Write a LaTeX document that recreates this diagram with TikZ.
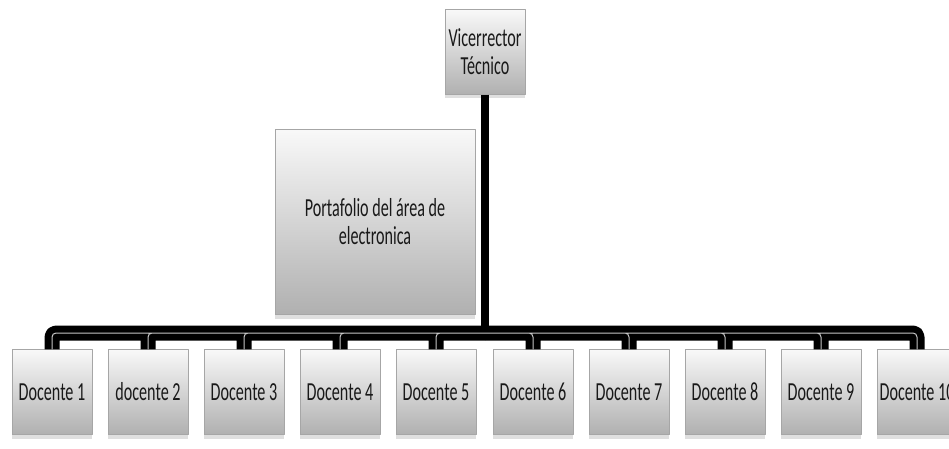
\documentclass[tikz,border=0pt]{standalone}
\usepackage{fontspec}
\newfontfamily\boxfont[FakeStretch=0.62]{Carlito}
\usetikzlibrary{shadows}
\tikzset{
  card/.style={draw=gray!70, top color=gray!5, bottom color=gray!62, minimum width=80pt, minimum height=85pt, inner sep=1pt, align=center, text=black!90, drop shadow={opacity=0.25, shadow xshift=0pt, shadow yshift=-4pt}},
  conn/.style={line width=7pt, draw=black, double=gray!45, double distance=1pt, rounded corners=4pt}
}
\begin{document}
\begin{tikzpicture}[x=1pt,y=1pt, font=\boxfont\fontsize{26}{28}\selectfont, line join=round]
	\useasboundingbox (0,0) rectangle (949,448);
	\path
	(485,396) node[card] (vic) {Vicerrector\\Técnico}
	(375,226) node[card, minimum width=200pt, minimum height=185pt] (port) {Portafolio del área de\\electronica}
	(52,56) node[card] (d1) {Docente 1}
	(148,56) node[card] (d2) {docente 2}
	(244,56) node[card] (d3) {Docente 3}
	(340,56) node[card] (d4) {Docente 4}
	(436,56) node[card] (d5) {Docente 5}
	(533,56) node[card] (d6) {Docente 6}
	(629,56) node[card] (d7) {Docente 7}
	(725,56) node[card] (d8) {Docente 8}
	(821,56) node[card] (d9) {Docente 9}
	(917,56) node[card] (d10) {Docente 10};
	\coordinate (bus) at (485,115);
	\draw[line width=8pt] (vic.south) -- (bus);
	\draw[conn] (bus) -| (d1) (bus) -| (d2) (bus) -| (d3) (bus) -| (d4) (bus) -| (d5);
	\draw[conn] (bus) -| (d6) (bus) -| (d7) (bus) -| (d8) (bus) -| (d9) (bus) -| (d10);
\end{tikzpicture}
\end{document}
